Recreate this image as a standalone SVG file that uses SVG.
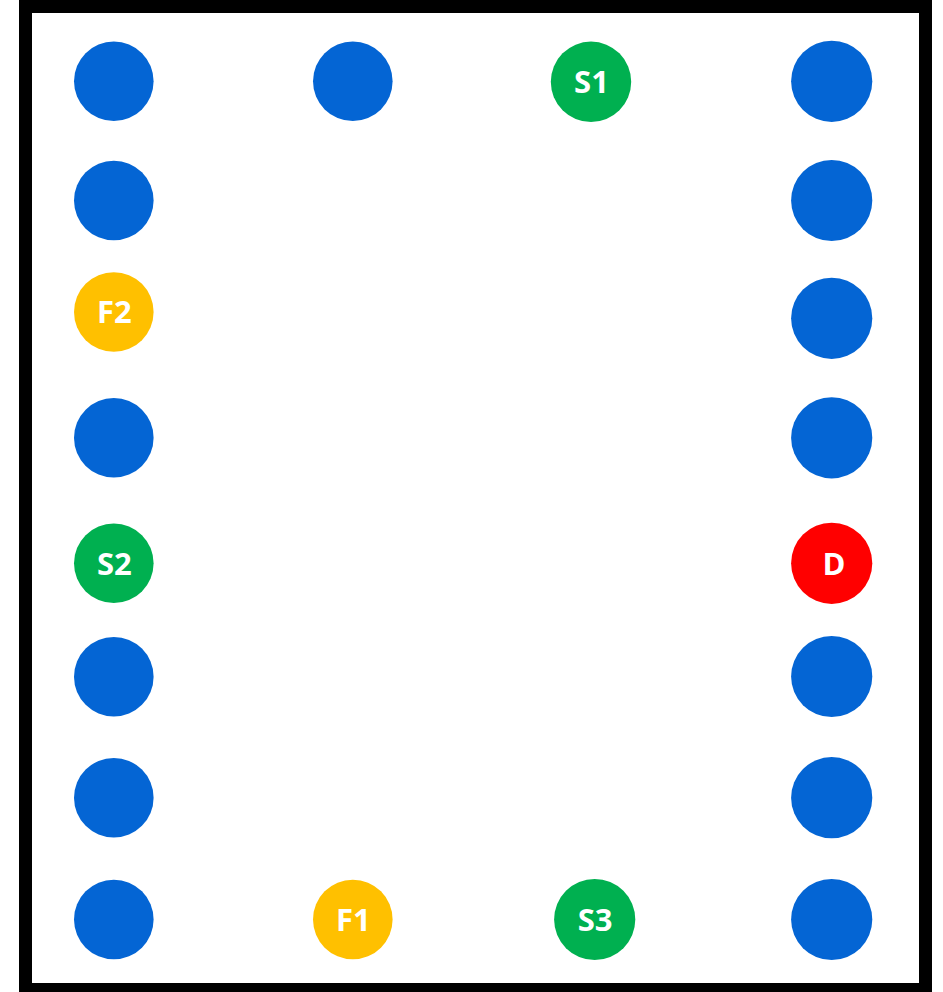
<svg xmlns="http://www.w3.org/2000/svg" width="943" height="992" viewBox="0 0 943 992">
<style>
.b{fill:#0465D4}
.g{fill:#00B050}
.y{fill:#FFC000}
.r{fill:#FF0000}
text{font-family:"Open Sans","Noto Sans","Liberation Sans",sans-serif;font-weight:bold;font-size:31px;fill:#fff;text-anchor:middle}
</style>
<rect x="0" y="0" width="943" height="992" fill="#fff"/>
<rect x="25.5" y="6.5" width="900" height="983" fill="none" stroke="#000" stroke-width="13"/>
<g id="connectors"></g>
<g id="n-l1"><circle class="b" cx="113.8" cy="81.3" r="39.8"/></g>
<g id="n-l2"><circle class="b" cx="113.8" cy="200.5" r="39.8"/></g>
<g id="n-F2"><circle class="y" cx="113.8" cy="312" r="39.8"/><text x="114.3" y="323.3">F2</text></g>
<g id="n-l4"><circle class="b" cx="113.8" cy="437.8" r="39.8"/></g>
<g id="n-S2"><circle class="g" cx="113.8" cy="563.3" r="39.8"/><text x="114.3" y="574.6">S2</text></g>
<g id="n-l6"><circle class="b" cx="113.8" cy="676.7" r="39.8"/></g>
<g id="n-l7"><circle class="b" cx="113.8" cy="797.7" r="39.8"/></g>
<g id="n-l8"><circle class="b" cx="113.8" cy="919.5" r="39.8"/></g>
<g id="n-t2"><circle class="b" cx="352.8" cy="81.3" r="39.8"/></g>
<g id="n-S1"><circle class="g" cx="591" cy="81.8" r="40.2"/><text x="591.5" y="93.3">S1</text></g>
<g id="n-F1"><circle class="y" cx="352.8" cy="919.5" r="39.8"/><text x="353.3" y="930.8">F1</text></g>
<g id="n-S3"><circle class="g" cx="594.7" cy="919.5" r="40.6"/><text x="595.2" y="930.8">S3</text></g>
<g id="n-r1"><circle class="b" cx="831.7" cy="81.3" r="40.6"/></g>
<g id="n-r2"><circle class="b" cx="831.7" cy="200.5" r="40.6"/></g>
<g id="n-r3"><circle class="b" cx="831.7" cy="318.3" r="40.6"/></g>
<g id="n-r4"><circle class="b" cx="831.7" cy="437.8" r="40.6"/></g>
<g id="n-D"><circle class="r" cx="831.7" cy="563.3" r="40.6"/><text x="834" y="574.6">D</text></g>
<g id="n-r6"><circle class="b" cx="831.7" cy="676.5" r="40.6"/></g>
<g id="n-r7"><circle class="b" cx="831.7" cy="797.7" r="40.6"/></g>
<g id="n-r8"><circle class="b" cx="831.7" cy="919.5" r="40.6"/></g>
</svg>
